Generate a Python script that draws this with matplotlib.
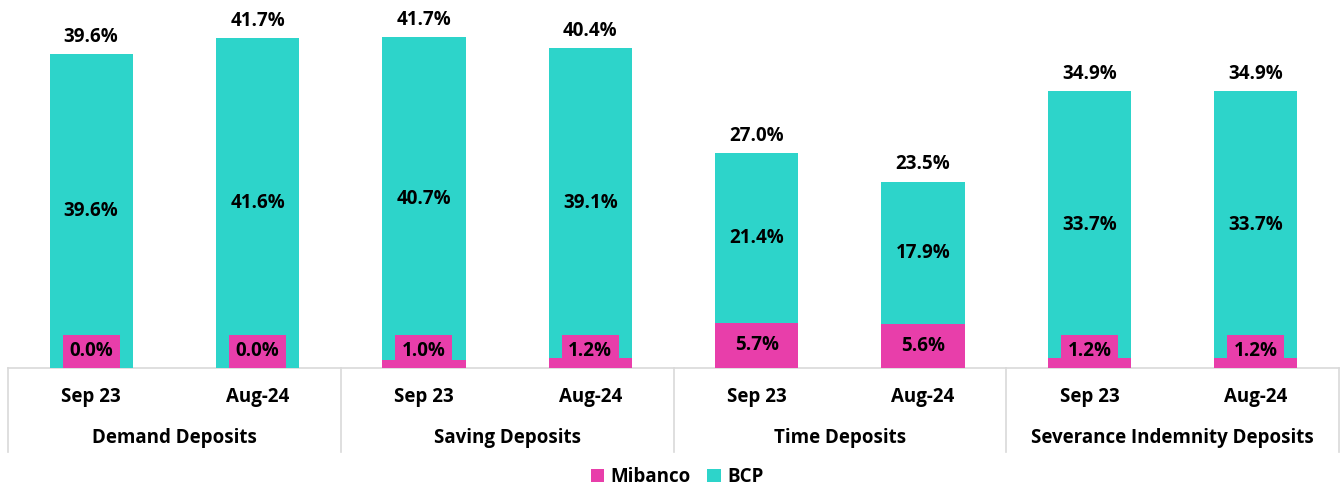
import matplotlib
matplotlib.use("Agg")
import matplotlib.pyplot as plt
from matplotlib.patches import Patch
import matplotlib.transforms as mtransforms

plt.rcParams['font.family'] = ['Open Sans', 'DejaVu Sans']

groups = ["Demand Deposits", "Saving Deposits", "Time Deposits", "Severance Indemnity Deposits"]
periods = ["Sep 23", "Aug-24"]
mibanco = [0.0, 0.0, 1.0, 1.2, 5.7, 5.6, 1.2, 1.2]
bcp = [39.6, 41.6, 40.7, 39.1, 21.4, 17.9, 33.7, 33.7]
totals = [39.6, 41.7, 41.7, 40.4, 27.0, 23.5, 34.9, 34.9]

PINK = "#E83EAA"
TEAL = "#2DD4CA"
GRID = "#D9D9D9"

fig = plt.figure(figsize=(13.41, 4.88), dpi=100)
ax = fig.add_axes([8/1341, 1-368/488, (1339-8)/1341, 365/488])

x = list(range(len(mibanco)))
w = 0.5
ax.bar(x, mibanco, width=w, color=PINK, label="Mibanco", zorder=2)
ax.bar(x, bcp, width=w, bottom=mibanco, color=TEAL, label="BCP", zorder=2)

ax.set_xlim(-0.5, 7.5)
ax.set_ylim(0, 46)
for s in ax.spines.values():
    s.set_visible(False)
ax.set_xticks([])
ax.set_yticks([])

fs = 13.5
fw = "bold"
for i in x:
    ax.text(i, mibanco[i] + bcp[i] / 2, f"{bcp[i]:.1f}%", ha="center", va="center",
            fontsize=fs, fontweight=fw, color="black", zorder=4)
    ax.text(i, mibanco[i] + bcp[i] + 0.9, f"{totals[i]:.1f}%", ha="center", va="bottom",
            fontsize=fs, fontweight=fw, color="black", zorder=4)
    ax.text(i, max(mibanco[i] / 2, 2.1), f"{mibanco[i]:.1f}%", ha="center", va="center",
            fontsize=fs, fontweight=fw, color="black", zorder=5,
            bbox=dict(boxstyle="square,pad=0.35", fc=PINK, ec="none"))

trans = mtransforms.blended_transform_factory(ax.transData, ax.transAxes)
ybot = (368 - 452) / 365
ax.plot([-0.5, 7.5], [0, 0], transform=trans, color=GRID, lw=1.2, clip_on=False, zorder=1)
for xs in [-0.5, 1.5, 3.5, 5.5, 7.5]:
    ax.plot([xs, xs], [0, ybot], transform=trans, color=GRID, lw=1.2, clip_on=False)

for i in x:
    ax.text(i, (368 - 397) / 365, periods[i % 2], transform=trans, ha="center", va="center",
            fontsize=fs, fontweight=fw)
for g, name in enumerate(groups):
    ax.text(2 * g + 0.5, (368 - 438) / 365, name, transform=trans, ha="center", va="center",
            fontsize=fs, fontweight=fw)

handles = [Patch(facecolor=PINK, label="Mibanco"), Patch(facecolor=TEAL, label="BCP")]
leg = fig.legend(handles=handles, loc="center", bbox_to_anchor=(677/1341, 1 - 477/488), ncol=2,
                 frameon=False, prop=dict(size=fs, weight=fw), handlelength=0.7,
                 handleheight=0.7, handletextpad=0.35, columnspacing=0.9)

fig.savefig("out.png", dpi=100)
